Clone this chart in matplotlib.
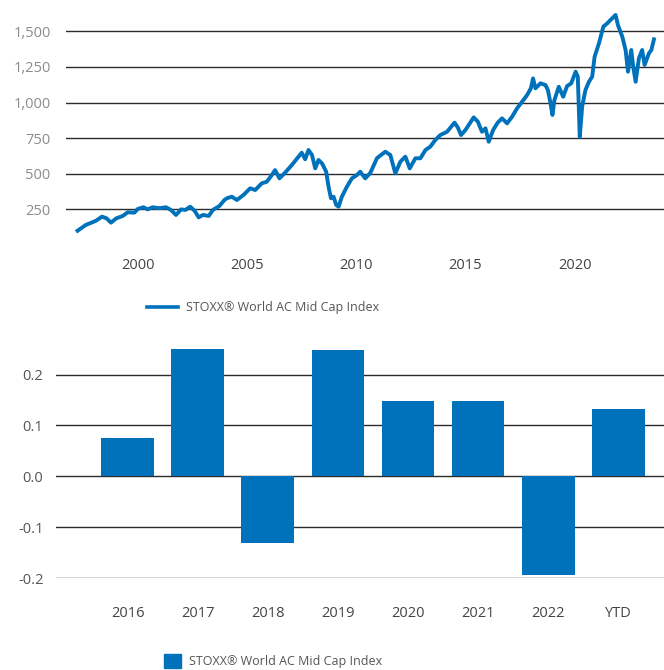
import matplotlib
matplotlib.use("Agg")
import matplotlib.pyplot as plt
from matplotlib.patches import Patch
from matplotlib.lines import Line2D

plt.rcParams['font.family'] = ['Open Sans', 'DejaVu Sans']

# index level (decimal year, level)
years = [1997.23, 1997.6, 1998.07, 1998.35, 1998.56, 1998.76, 1999.0, 1999.3, 1999.53, 1999.83,
         1999.99, 2000.25, 2000.44, 2000.67, 2000.98, 2001.28, 2001.51, 2001.74, 2001.97, 2002.17,
         2002.39, 2002.59, 2002.78, 2002.97, 2003.24, 2003.43, 2003.73, 2003.96, 2004.07, 2004.3,
         2004.53, 2004.83, 2005.14, 2005.37, 2005.67, 2005.9, 2006.13, 2006.28, 2006.48, 2006.74,
         2007.05, 2007.35, 2007.5, 2007.66, 2007.81, 2007.97, 2008.12, 2008.27, 2008.43, 2008.62,
         2008.73, 2008.84, 2008.96, 2009.08, 2009.19, 2009.34, 2009.57, 2009.8, 2010.03, 2010.18,
         2010.41, 2010.64, 2010.95, 2011.33, 2011.56, 2011.79, 2012.02, 2012.25, 2012.45, 2012.71,
         2012.94, 2013.17, 2013.39, 2013.62, 2013.85, 2014.16, 2014.5, 2014.65, 2014.8, 2015.0,
         2015.2, 2015.38, 2015.57, 2015.76, 2015.92, 2016.07, 2016.27, 2016.48, 2016.68, 2016.91,
         2017.14, 2017.37, 2017.6, 2017.83, 2018.0, 2018.1, 2018.21, 2018.44, 2018.67, 2018.78,
         2018.9, 2018.99, 2019.08, 2019.28, 2019.48, 2019.66, 2019.85, 2020.05, 2020.15, 2020.24,
         2020.35, 2020.5, 2020.66, 2020.81, 2020.92, 2021.12, 2021.32, 2021.5, 2021.65, 2021.88,
         2021.99, 2022.19, 2022.34, 2022.45, 2022.6, 2022.69, 2022.8, 2022.95, 2023.1, 2023.21,
         2023.41, 2023.52, 2023.64]
levels = [100, 140, 170, 199, 187, 157, 187, 204, 230, 227,
          253, 265, 250, 265, 258, 265, 246, 211, 250, 246,
          269, 241, 194, 211, 204, 246, 274, 316, 328, 339,
          316, 351, 398, 386, 433, 444, 491, 526, 468, 508,
          562, 620, 648, 602, 667, 632, 538, 597, 573, 515,
          409, 328, 339, 281, 269, 339, 409, 468, 491, 515,
          468, 505, 610, 655, 632, 503, 585, 620, 538, 609,
          609, 667, 690, 737, 772, 795, 859, 826, 772, 807,
          854, 896, 866, 795, 819, 725, 807, 859, 889, 854,
          901, 960, 1006, 1053, 1100, 1170, 1100, 1135, 1123, 1088,
          995, 913, 1018, 1111, 1041, 1116, 1135, 1217, 1182, 760,
          971, 1088, 1146, 1182, 1322, 1416, 1533, 1556, 1580, 1615,
          1544, 1462, 1369, 1217, 1369, 1252, 1146, 1311, 1369, 1264,
          1346, 1369, 1444]

# annual returns
periods = ["2016", "2017", "2018", "2019", "2020", "2021", "2022", "YTD"]
returns = [0.075, 0.25, -0.132, 0.249, 0.148, 0.148, -0.195, 0.132]

blue = '#0071bb'
grid_c = '#2b2b2b'
label = "STOXX\u00ae World AC Mid Cap Index"

fig = plt.figure(figsize=(6.64, 6.70), dpi=100)

# top: index level
ax1 = fig.add_axes([66 / 664, 1 - 245 / 670, 1 - 66 / 664, 240 / 670])
ax1.plot(years, levels, color=blue, lw=2.8, solid_joinstyle='round')
ax1.set_xlim(1996.7, 2024.1)
ax1.set_ylim(0, 1685)
ax1.set_yticks([250, 500, 750, 1000, 1250, 1500])
ax1.set_yticklabels(["250", "500", "750", "1,000", "1,250", "1,500"])
ax1.set_xticks([2000, 2005, 2010, 2015, 2020])
ax1.yaxis.grid(True, color=grid_c, lw=1.0)
ax1.set_axisbelow(True)
for s in ax1.spines.values():
    s.set_visible(False)
ax1.tick_params(axis='y', length=0, pad=11, labelsize=10.5, labelcolor='#8c8c8c')
ax1.tick_params(axis='x', length=0, pad=9, labelsize=10.5, labelcolor='#444444')

fig.legend(handles=[Line2D([0], [0], color=blue, lw=2.6)], labels=[label],
           loc='center', bbox_to_anchor=(263 / 664, 1 - 308 / 670), frameon=False,
           fontsize=9, labelcolor='#555555', handlelength=2.5, handletextpad=0.65)

# bottom: annual returns
ax2 = fig.add_axes([56 / 664, 1 - 578 / 670, 1 - 56 / 664, 239 / 670])
xs = list(range(len(periods)))
ax2.bar(xs, returns, width=0.75, color=blue)
ax2.set_xlim(-1.02, 7.65)
ax2.set_ylim(-0.2, 0.27)
ax2.set_yticks([-0.2, -0.1, 0.0, 0.1, 0.2])
ax2.set_yticklabels(["-0.2", "-0.1", "0.0", "0.1", "0.2"])
ax2.set_xticks(xs)
ax2.set_xticklabels(periods)
ax2.yaxis.grid(True, color=grid_c, lw=1.0)
ax2.set_axisbelow(True)
for s in ax2.spines.values():
    s.set_visible(False)
ax2.tick_params(axis='y', length=0, pad=9, labelsize=10.5, labelcolor='#555555')
ax2.tick_params(axis='x', length=0, pad=20, labelsize=10.5, labelcolor='#444444')

fig.legend(handles=[Patch(color=blue)], labels=[label],
           loc='center', bbox_to_anchor=(273 / 664, 1 - 661 / 670), frameon=False,
           fontsize=9, labelcolor='#555555', handlelength=1.4, handleheight=1.4,
           handletextpad=0.65)

fig.savefig("out.png", dpi=100)
